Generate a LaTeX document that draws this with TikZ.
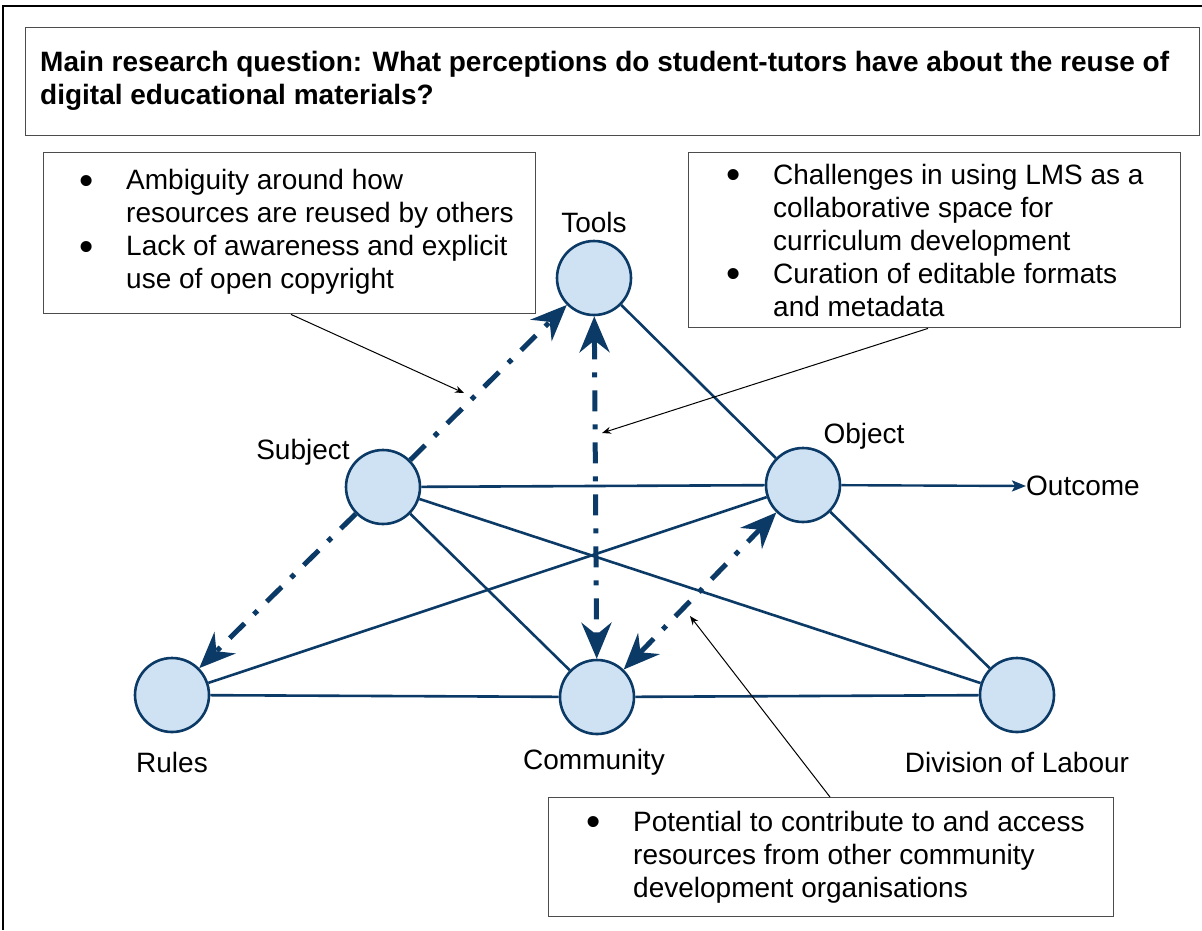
\documentclass[tikz,border=0pt]{standalone}
\usepackage{fontspec}
\setmainfont{Liberation Sans}
\usetikzlibrary{arrows.meta,calc}
\definecolor{nodeblue}{HTML}{CFE2F3}
\definecolor{darkblue}{HTML}{0B3A66}
\newcommand{\bul}{\makebox[47pt][l]{\raisebox{-4.5pt}{\scalebox{1.45}{\textbullet}}}}
\newcommand{\ind}{\hspace*{47pt}}
\begin{document}
\begin{tikzpicture}[x=1pt,y=-1pt,
  circ/.style={circle, draw=darkblue, fill=nodeblue, line width=2.6pt, minimum size=74pt, inner sep=0pt},
  lbl/.style={font=\fontsize{28}{33}\selectfont, inner sep=0pt},
  rel/.style={draw=darkblue, line width=2.6pt},
  dd/.style={draw=darkblue, line width=5pt, dash pattern=on 21pt off 13pt on 5pt off 13pt},
  tipend/.style={-{Stealth[length=36pt,width=30pt,inset=12pt]}},
  tipboth/.style={{Stealth[length=36pt,width=30pt,inset=12pt]}-{Stealth[length=36pt,width=30pt,inset=12pt]}},
  box/.style={draw=black!70, line width=1.4pt, anchor=north west, inner sep=0pt},
  content/.style={anchor=west, inner sep=0pt, align=left, font=\fontsize{28}{33}\selectfont},
  callout/.style={draw=black, line width=1pt, -{Stealth[length=9pt,width=7pt]}},
  outarrow/.style={draw=darkblue, line width=2.4pt, -{Stealth[length=14pt,width=11pt,inset=3pt]}},
]
\useasboundingbox (0,0) rectangle (1202,930);
\fill[white] (0,0) rectangle (1202,930);
% outer frame
\draw[line width=1.5pt] (3,930) -- (3,6) -- (1202,6);

% title
\node[box, minimum width=1174pt, minimum height=108pt] (titlebox) at (25,27) {};
\node[content, font=\bfseries\fontsize{28}{33}\selectfont] (title) at (40,81)
  {Main research question: What perceptions do student-tutors have about the reuse of\\digital educational materials?};

% bullet boxes
\node[box, minimum width=492pt, minimum height=161pt] (leftbox) at (43,152) {};
\node[content] (lefttext) at (79,232)
  {\bul Ambiguity around how\\\ind resources are reused by others\\\bul Lack of awareness and explicit\\\ind use of open copyright};
\node[box, minimum width=492pt, minimum height=175pt] (rightbox) at (688,152) {};
\node[content] (righttext) at (726,240)
  {\bul Challenges in using LMS as a\\\ind collaborative space for\\\ind curriculum development\\\bul Curation of editable formats\\\ind and metadata};
\node[box, minimum width=565pt, minimum height=119pt] (bottombox) at (548,797) {};
\node[content] (bottomtext) at (586,857)
  {\bul Potential to contribute to and access\\\ind resources from other community\\\ind development organisations};

% circles
\node[circ] (tools) at (594,278) {};
\node[circ] (subject) at (383,487) {};
\node[circ] (object) at (803,485) {};
\node[circ] (rules) at (172,695) {};
\node[circ] (community) at (597,697) {};
\node[circ] (division) at (1017,695) {};

% labels
\node[lbl] (toolsL) at (594,222) {Tools};
\node[lbl] (subjectL) at (303,452) {Subject};
\node[lbl] (objectL) at (864,436) {Object};
\node[lbl] (rulesL) at (172,762) {Rules};
\node[lbl] (communityL) at (594,762) {Community};
\node[lbl] (divisionL) at (1017,762) {Division of Labour};
\node[lbl, anchor=west] (outcome) at (1026,486) {Outcome};

% solid relations
\path[rel] (tools) -- (object);
\path[rel] (subject) -- (object);
\path[rel] (subject) -- (community);
\path[rel] (subject) -- (division);
\path[rel] (object) -- (rules);
\path[rel] (object) -- (division);
\path[rel] (rules) -- (community);
\path[rel] (community) -- (division);
\draw[outarrow] (object) -- (outcome.west);

% dash-dot arrows
\draw[dd, tipend] (subject) -- (tools);
\draw[dd, tipend] (subject) -- (rules);
\draw[dd, tipboth] (tools) -- (community);
\draw[dd, tipboth] (community) -- (object);

% callouts
\coordinate (c1) at (464,393);
\coordinate (c2) at (602,433);
\coordinate (c3) at (690,616);
\draw[callout] ([xshift=248pt]leftbox.south west) -- (c1);
\draw[callout] ([xshift=240pt]rightbox.south west) -- (c2);
\draw[callout] ([xshift=282pt]bottombox.north west) -- (c3);
\end{tikzpicture}
\end{document}
